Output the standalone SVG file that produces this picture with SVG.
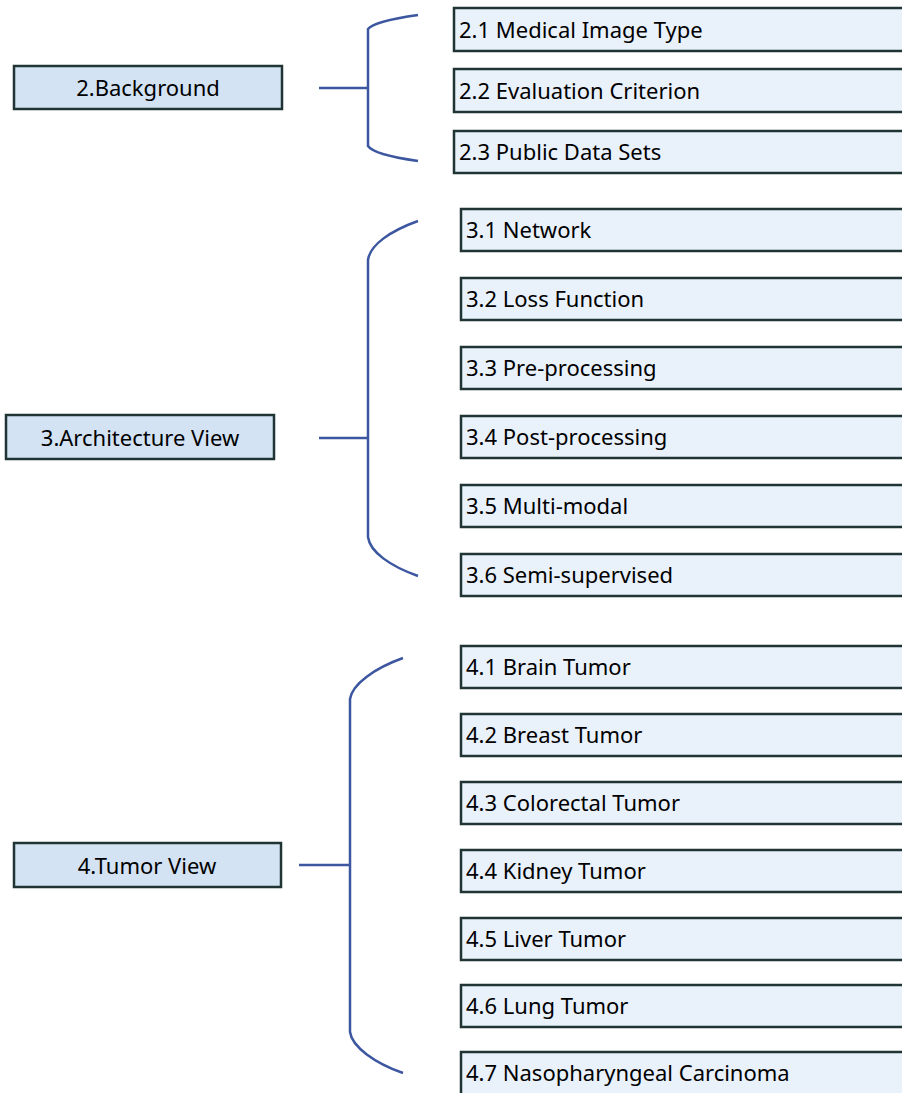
<svg xmlns="http://www.w3.org/2000/svg" width="902" height="1093" viewBox="0 0 902 1093">
  <style>
    .sec rect { fill: #d3e3f4; stroke: #1f3433; stroke-width: 2.5; }
    .sub rect { fill: #e9f1fb; stroke: #1f3433; stroke-width: 2.5; }
    text { font-family: "Noto Sans", "Open Sans", sans-serif; font-size: 22px; fill: #000; }
    .sec text { text-anchor: middle; }
    .brace { fill: none; stroke: #3c56a0; stroke-width: 2.5; }
  </style>
  <rect width="902" height="1093" fill="#ffffff"/>

  <!-- section nodes -->
  <g id="n2" class="sec"><rect x="14" y="66" width="268" height="43"/><text x="148" y="96">2.Background</text></g>
  <g id="n3" class="sec"><rect x="6" y="415" width="268" height="44"/><text x="140" y="446">3.Architecture View</text></g>
  <g id="n4" class="sec"><rect x="14" y="843" width="267" height="44"/><text x="147" y="874">4.Tumor View</text></g>

  <!-- subsection nodes -->
  <g id="n2_1" class="sub"><rect x="454" y="8" width="452" height="43"/><text x="459" y="38">2.1 Medical Image Type</text></g>
  <g id="n2_2" class="sub"><rect x="454" y="69" width="452" height="43"/><text x="459" y="99">2.2 Evaluation Criterion</text></g>
  <g id="n2_3" class="sub"><rect x="454" y="131" width="452" height="42"/><text x="459" y="160">2.3 Public Data Sets</text></g>

  <g id="n3_1" class="sub"><rect x="461" y="209" width="445" height="42"/><text x="466" y="238">3.1 Network</text></g>
  <g id="n3_2" class="sub"><rect x="461" y="278" width="445" height="42"/><text x="466" y="307">3.2 Loss Function</text></g>
  <g id="n3_3" class="sub"><rect x="461" y="347" width="445" height="42"/><text x="466" y="376">3.3 Pre-processing</text></g>
  <g id="n3_4" class="sub"><rect x="461" y="416" width="445" height="42"/><text x="466" y="445">3.4 Post-processing</text></g>
  <g id="n3_5" class="sub"><rect x="461" y="485" width="445" height="42"/><text x="466" y="514">3.5 Multi-modal</text></g>
  <g id="n3_6" class="sub"><rect x="461" y="554" width="445" height="42"/><text x="466" y="583">3.6 Semi-supervised</text></g>

  <g id="n4_1" class="sub"><rect x="461" y="646" width="445" height="42"/><text x="466" y="675">4.1 Brain Tumor</text></g>
  <g id="n4_2" class="sub"><rect x="461" y="714" width="445" height="42"/><text x="466" y="743">4.2 Breast Tumor</text></g>
  <g id="n4_3" class="sub"><rect x="461" y="782" width="445" height="42"/><text x="466" y="811">4.3 Colorectal Tumor</text></g>
  <g id="n4_4" class="sub"><rect x="461" y="850" width="445" height="42"/><text x="466" y="879">4.4 Kidney Tumor</text></g>
  <g id="n4_5" class="sub"><rect x="461" y="918" width="445" height="42"/><text x="466" y="947">4.5 Liver Tumor</text></g>
  <g id="n4_6" class="sub"><rect x="461" y="985" width="445" height="42"/><text x="466" y="1014">4.6 Lung Tumor</text></g>
  <g id="n4_7" class="sub"><rect x="461" y="1052" width="445" height="45"/><text x="466" y="1081">4.7 Nasopharyngeal Carcinoma</text></g>

  <!-- connectors: stem plus curly bracket for each section -->
  <g id="connectors" class="brace">
    <path d="M319,88 H368"/>
    <path d="M418,15 C390,19 372,24 368,29 V146 C372,152 390,157 418,161"/>

    <path d="M319,438 H368"/>
    <path d="M418,221 C390,231 370,245 368,260 V537 C370,552 390,566 418,576"/>

    <path d="M299,865 H350"/>
    <path d="M403,658 C375,668 352,684 350,699 V1032 C352,1047 375,1063 403,1073"/>
  </g>
</svg>
